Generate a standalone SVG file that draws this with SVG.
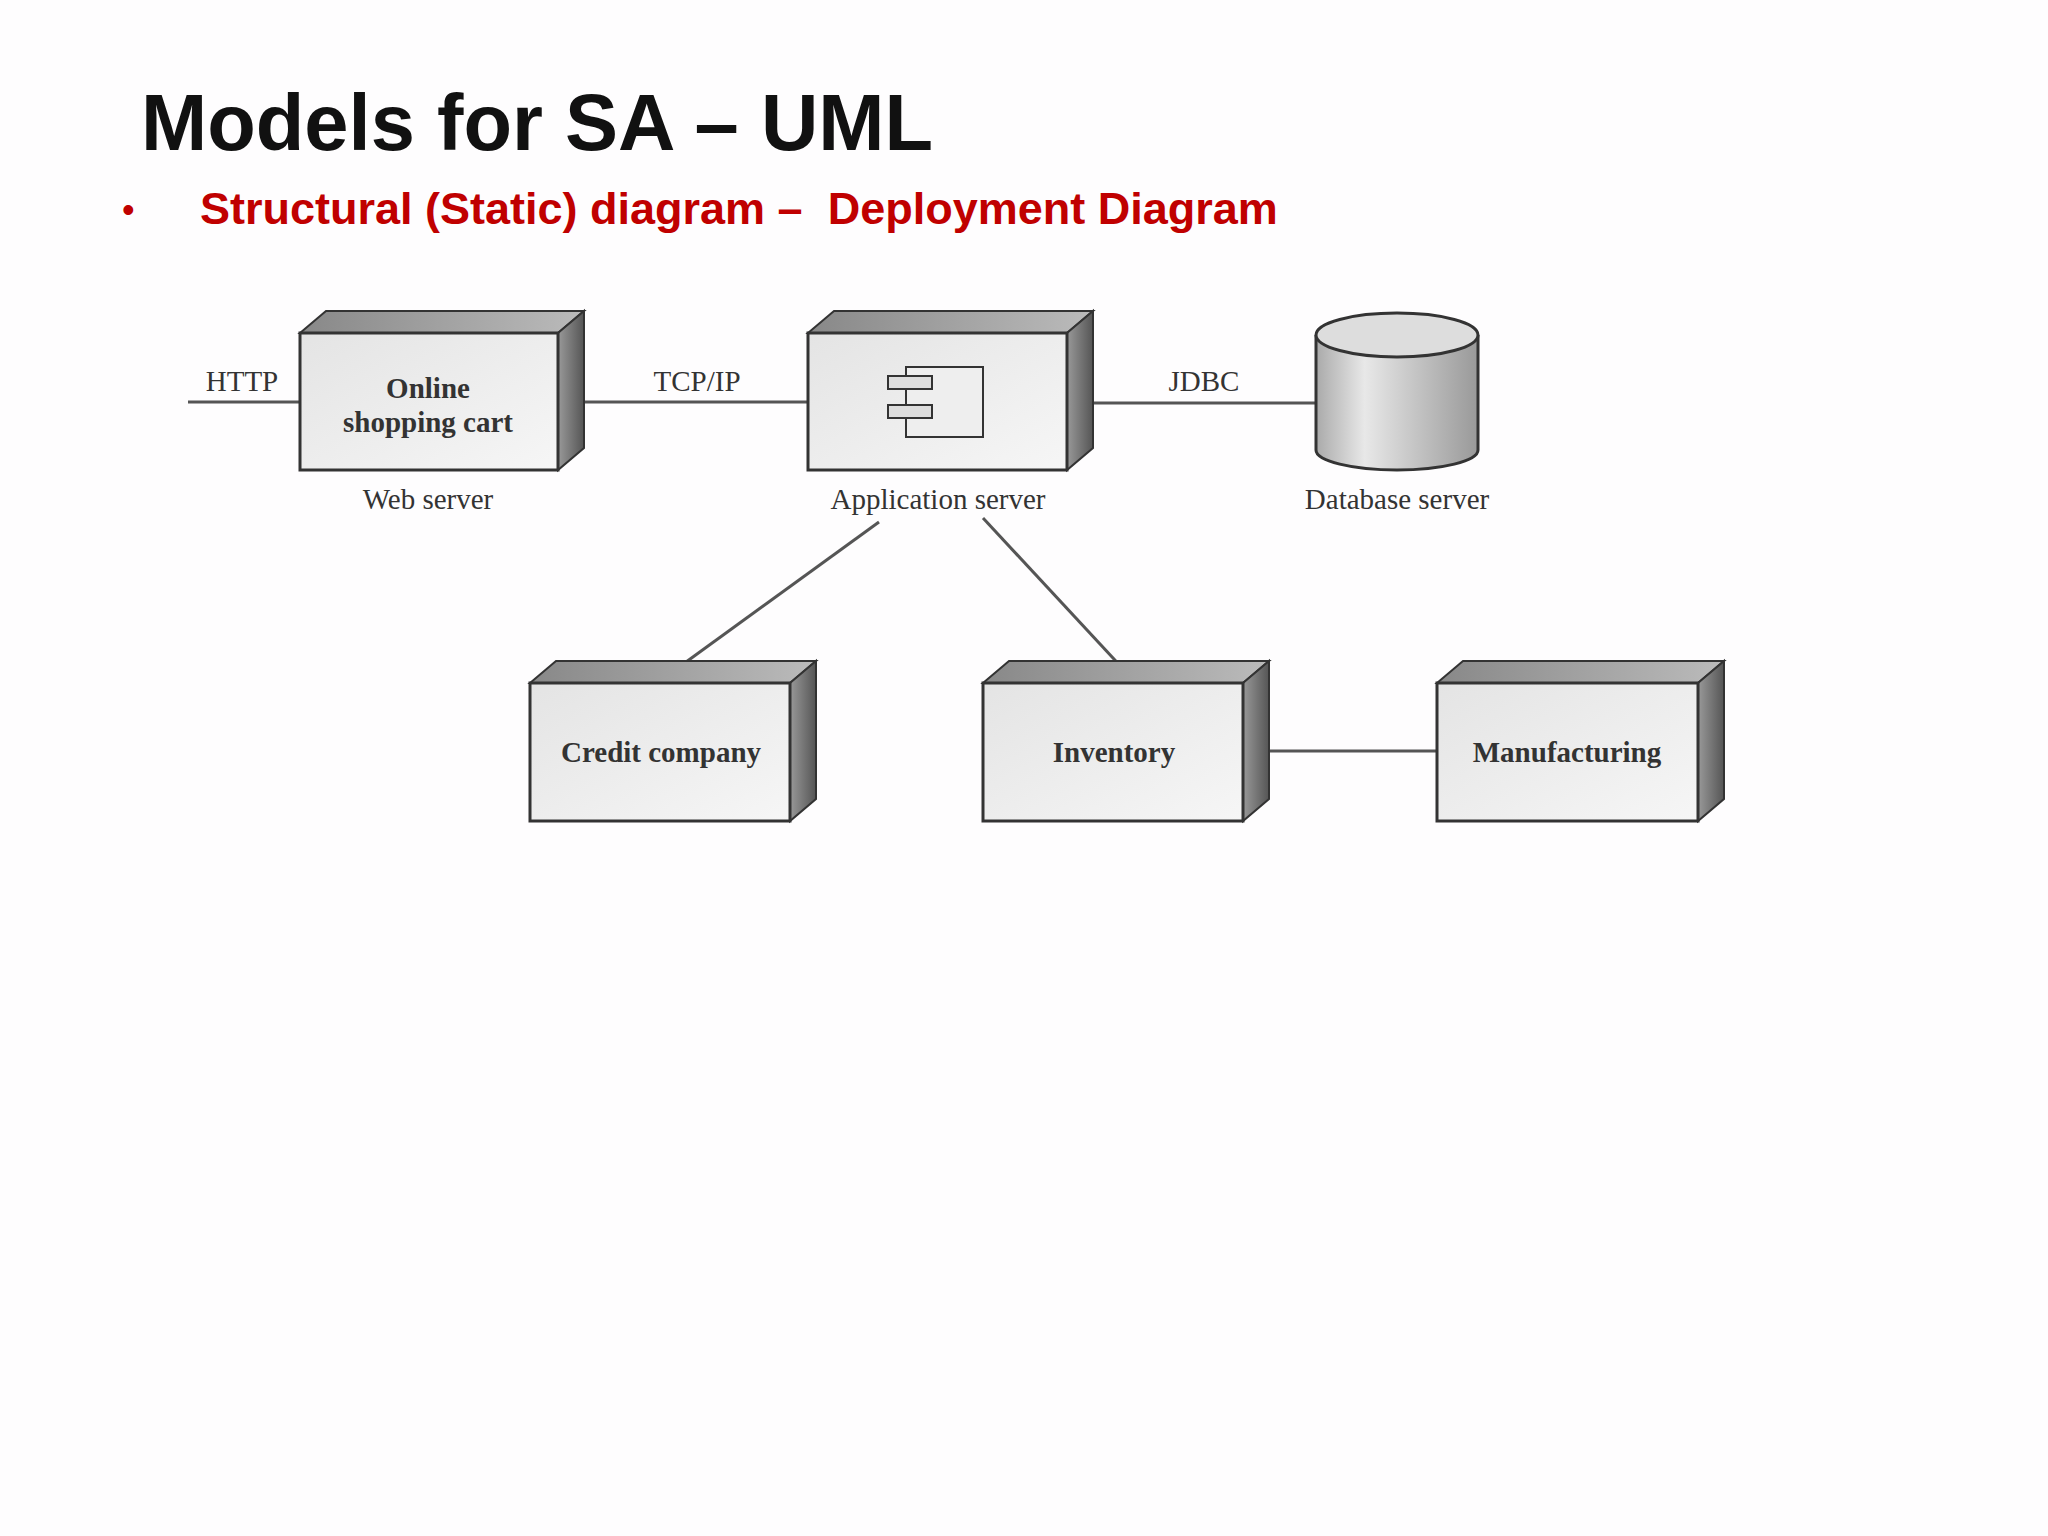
<svg xmlns="http://www.w3.org/2000/svg" width="2048" height="1536" viewBox="0 0 2048 1536">
<style>
.front{fill:url(#gf);stroke:#333;stroke-width:3}
.top{fill:url(#gt);stroke:#333;stroke-width:2}
.side{fill:url(#gs);stroke:#333;stroke-width:2}
.ln{stroke:#555;stroke-width:3;fill:none}
.lb{font-family:"Liberation Serif",serif;font-size:29px;fill:#333;text-anchor:middle}
.nb{font-family:"Liberation Serif",serif;font-size:29px;font-weight:bold;fill:#333;text-anchor:middle}
</style>
<defs>
<linearGradient id="gf" x1="0" y1="0" x2="1" y2="1"><stop offset="0" stop-color="#e4e4e4"/><stop offset="1" stop-color="#f6f6f6"/></linearGradient>
<linearGradient id="gt" x1="0" y1="0" x2="1" y2="0"><stop offset="0" stop-color="#888"/><stop offset="1" stop-color="#bbb"/></linearGradient>
<linearGradient id="gs" x1="0" y1="0" x2="1" y2="0"><stop offset="0" stop-color="#999"/><stop offset="1" stop-color="#555"/></linearGradient>
<linearGradient id="gc" x1="0" y1="0" x2="1" y2="0"><stop offset="0" stop-color="#aaa"/><stop offset="0.3" stop-color="#e8e8e8"/><stop offset="1" stop-color="#999"/></linearGradient>
</defs>
<rect width="2048" height="1536" fill="#fefdfe"/>
<text x="141" y="150" font-family="Liberation Sans,Arial,sans-serif" font-size="79.5" font-weight="bold" fill="#111">Models for SA – UML</text>
<text x="122" y="222" font-family="Liberation Sans,Arial,sans-serif" font-size="36" fill="#c00000">•</text>
<text x="200" y="224" font-family="Liberation Sans,Arial,sans-serif" font-size="45" font-weight="bold" fill="#c00000" xml:space="preserve">Structural (Static) diagram –  Deployment Diagram</text>
<g id="connectors">
<line class="ln" x1="188" y1="402" x2="300" y2="402"/>
<line class="ln" x1="568" y1="402" x2="808" y2="402"/>
<line class="ln" x1="1077" y1="403" x2="1316" y2="403"/>
<line class="ln" x1="879" y1="522" x2="675" y2="670"/>
<line class="ln" x1="983" y1="518" x2="1126" y2="672"/>
<line class="ln" x1="1254" y1="751" x2="1437" y2="751"/>
<text class="lb" x="242" y="391">HTTP</text>
<text class="lb" x="697" y="391">TCP/IP</text>
<text class="lb" x="1204" y="391">JDBC</text>
</g>
<g id="web">
<polygon class="top" points="300,333 326,311 584,311 558,333"/>
<polygon class="side" points="558,333 584,311 584,448 558,470"/>
<rect class="front" x="300" y="333" width="258" height="137"/>
<text class="nb" x="428" y="398">Online</text>
<text class="nb" x="428" y="432">shopping cart</text>
<text class="lb" x="428" y="509">Web server</text>
</g>
<g id="app">
<polygon class="top" points="808,333 834,311 1093,311 1067,333"/>
<polygon class="side" points="1067,333 1093,311 1093,448 1067,470"/>
<rect class="front" x="808" y="333" width="259" height="137"/>
<rect x="906" y="367" width="77" height="70" fill="#eee" stroke="#333" stroke-width="2"/>
<rect x="888" y="376" width="44" height="13" fill="#ddd" stroke="#333" stroke-width="2"/>
<rect x="888" y="405" width="44" height="13" fill="#ddd" stroke="#333" stroke-width="2"/>
<text class="lb" x="938" y="509">Application server</text>
</g>
<g id="db">
<path d="M1316,335 V450 A81,20 0 0 0 1478,450 V335" fill="url(#gc)" stroke="#333" stroke-width="3"/>
<ellipse cx="1397" cy="335" rx="81" ry="22" fill="#ddd" stroke="#333" stroke-width="3"/>
<text class="lb" x="1397" y="509">Database server</text>
</g>
<g id="credit">
<polygon class="top" points="530,683 556,661 816,661 790,683"/>
<polygon class="side" points="790,683 816,661 816,799 790,821"/>
<rect class="front" x="530" y="683" width="260" height="138"/>
<text class="nb" x="661" y="762">Credit company</text>
</g>
<g id="inventory">
<polygon class="top" points="983,683 1009,661 1269,661 1243,683"/>
<polygon class="side" points="1243,683 1269,661 1269,799 1243,821"/>
<rect class="front" x="983" y="683" width="260" height="138"/>
<text class="nb" x="1114" y="762">Inventory</text>
</g>
<g id="manufacturing">
<polygon class="top" points="1437,683 1463,661 1724,661 1698,683"/>
<polygon class="side" points="1698,683 1724,661 1724,799 1698,821"/>
<rect class="front" x="1437" y="683" width="261" height="138"/>
<text class="nb" x="1567" y="762">Manufacturing</text>
</g>
</svg>
